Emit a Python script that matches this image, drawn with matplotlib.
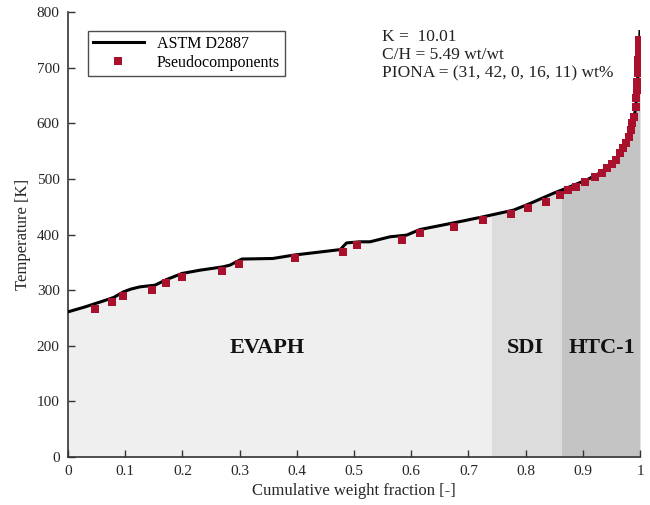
import numpy as np
import matplotlib
matplotlib.use("Agg")
import matplotlib.pyplot as plt
from matplotlib.patches import Rectangle

plt.rcParams['font.family'] = ['Liberation Serif', 'DejaVu Serif']

# ASTM D2887 distillation curve
astm_x = [0, 0.03, 0.06, 0.08, 0.097, 0.11, 0.126, 0.152, 0.172, 0.199, 0.231,
          0.271, 0.283, 0.304, 0.358, 0.394, 0.476, 0.487, 0.51, 0.528, 0.563,
          0.592, 0.615, 0.674, 0.726, 0.779, 0.808, 0.848, 0.88, 0.91, 0.93,
          0.95, 0.965, 0.975, 0.983, 0.988, 0.992, 0.995, 0.997, 0.999, 1.0]
astm_T = [261, 270, 280, 287, 297, 302, 306, 309, 319, 330, 336,
          342, 345, 356, 357, 363, 373, 385, 387, 387, 396,
          399, 409, 421, 432, 444, 456, 474, 487, 500, 511,
          527, 543, 560, 580, 600, 625, 660, 700, 740, 765]

# pseudocomponents
pc_x = [0.047, 0.077, 0.097, 0.147, 0.172, 0.200, 0.269, 0.299, 0.396, 0.480,
        0.505, 0.584, 0.615, 0.675, 0.726, 0.774, 0.804, 0.835, 0.860, 0.875,
        0.889, 0.904, 0.921, 0.933, 0.942, 0.9505, 0.9575, 0.965, 0.971, 0.9755,
        0.980, 0.984, 0.9866, 0.990, 0.9925, 0.9936, 0.995, 0.9955, 0.996, 0.9965,
        0.997, 0.9975, 0.998, 0.998]
pc_T = [267, 279, 289, 301, 313, 324, 335, 347, 358, 369,
        381, 391, 403, 414, 426, 437, 448, 459, 471, 480,
        486, 495, 504, 511, 519, 527, 534, 546, 555, 564,
        576, 588, 600, 612, 630, 645, 660, 675, 690, 702,
        714, 726, 738, 750]

# regions along the cumulative fraction
regions = [("EVAPH", 0.0, 0.741, '#efefef', 0.348),
           ("SDI", 0.741, 0.863, '#dcdcdc', 0.80),
           ("HTC-1", 0.863, 1.0, '#c4c4c4', 0.933)]

fig = plt.figure(figsize=(6.5, 5.05), dpi=100)
ax = fig.add_axes([0.1046, 0.095, 0.88, 0.881])

for name, x0, x1, col, xt in regions:
    fill = ax.fill_between(astm_x, astm_T, 0, color=col, linewidth=0, zorder=1)
    fill.set_clip_path(Rectangle((x0, 0), x1 - x0, 800, transform=ax.transData))
    ax.text(xt, 196, name, ha='center', va='center', fontsize=16,
            fontweight='bold', color='#111111', zorder=5)

ax.plot(astm_x, astm_T, '-', color='black', linewidth=2.2,
        label='ASTM D2887', zorder=3)
ax.plot(pc_x, pc_T, 's', color='#a8102c', markersize=5.2, markeredgewidth=0,
        label='Pseudocomponents', zorder=4)

ax.text(0.549, 770, "K =  10.01\nC/H = 5.49 wt/wt\nPIONA = (31, 42, 0, 16, 11) wt%",
        ha='left', va='top', fontsize=12.5, linespacing=1.2, color='#222222')

ax.set_xlim(0, 1)
ax.set_ylim(0, 800)
ax.set_xticks(np.arange(0, 1.01, 0.1))
ax.set_xticklabels(['0', '0.1', '0.2', '0.3', '0.4', '0.5', '0.6', '0.7',
                    '0.8', '0.9', '1'])
ax.set_yticks(np.arange(0, 801, 100))
ax.tick_params(direction='in', length=5, width=1, labelsize=11, pad=6,
               colors='#333333', labelcolor='#262626')
for s in ['top', 'right']:
    ax.spines[s].set_visible(False)
for s in ['left', 'bottom']:
    ax.spines[s].set_color('#333333')
    ax.spines[s].set_linewidth(1.2)

ax.set_xlabel("Cumulative weight fraction [-]", fontsize=12, color='#262626',
              labelpad=3)
ax.set_ylabel("Temperature [K]", fontsize=12, color='#262626')

leg = ax.legend(loc='upper left', bbox_to_anchor=(0.021, 0.976), fontsize=11.5,
                frameon=True, fancybox=False, edgecolor='#222222',
                borderpad=0.3, handlelength=3.2, labelspacing=0.2)
leg.get_frame().set_linewidth(1.0)

fig.savefig("out.png", dpi=100)
